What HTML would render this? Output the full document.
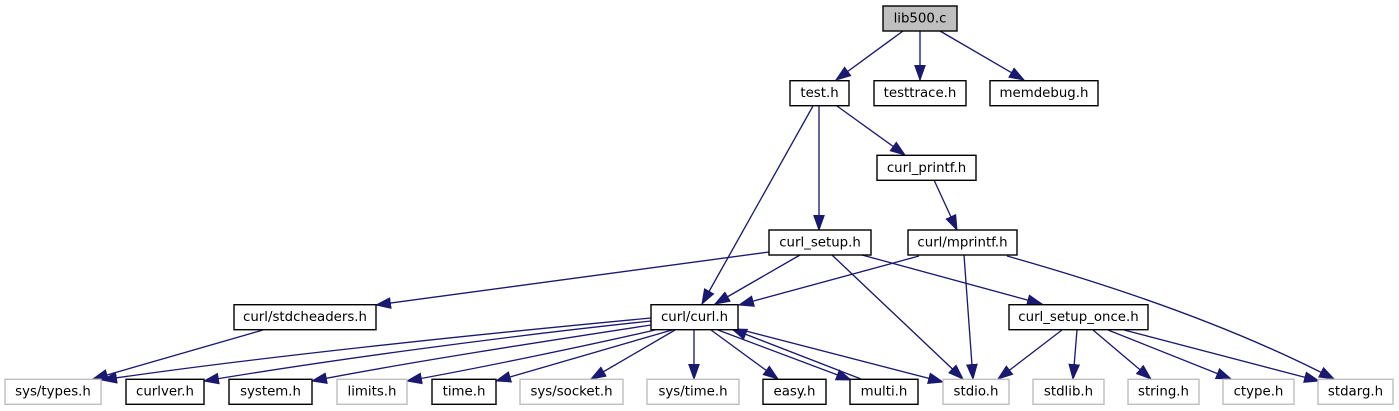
<!DOCTYPE html>
<html><head><meta charset="utf-8"><style>html,body{margin:0;padding:0;background:#fff}svg{display:block}text{font-family:"DejaVu Sans",sans-serif;font-size:13.33px;text-anchor:middle;fill:#000}rect{stroke-width:1.4}.k{fill:#fff;stroke:#000}.g{fill:#fff;stroke:#bfbfbf}path{fill:none;stroke:#191970;stroke-width:1.33;marker-end:url(#a)}</style></head><body>
<svg width="1399" height="411" viewBox="0 0 1399 411" xmlns="http://www.w3.org/2000/svg">
<defs><marker id="a" markerUnits="userSpaceOnUse" markerWidth="18" markerHeight="14" refX="15" refY="7" orient="auto"><polygon points="0.5,1.8 15,7 0.5,12.2" fill="#191970" stroke="#191970" stroke-width="1"/></marker></defs>
<path d="M903,31L836,80"/><path d="M920,31V80"/><path d="M940,31L1024,80"/>
<path d="M813,106L702,304"/><path d="M819,106V230"/><path d="M837,106L905,155"/>
<path d="M934,180L957,230"/>
<path d="M769,252L376,305"/><path d="M800,255L715,304"/><path d="M832,255L963,379"/><path d="M862,255L1042,304"/>
<path d="M919,256L739,305"/><path d="M964,255L973,379"/><path d="M1007,256C1110,285 1230,325 1334,379"/>
<path d="M263,330L93,379"/>
<path d="M651,318C480,334 250,358 102,380"/><path d="M651,321C500,337 330,360 204,381"/><path d="M651,325C540,342 410,362 312,381"/>
<path d="M655,330C590,345 480,368 407,381"/><path d="M672,330L496,381"/><path d="M675,330L591,379"/>
<path d="M694,330V379"/><path d="M711,330L778,379"/><path d="M718,330L851,380"/><path d="M861,379L732,329"/><path d="M738,329L943,382"/>
<path d="M1062,330L998,379"/><path d="M1077,330L1073,379"/><path d="M1093,330L1151,379"/><path d="M1108,330L1231,379"/><path d="M1124,330L1319,381"/>
<rect x="883" y="6" width="74" height="25" fill="#bfbfbf" stroke="#000"/><text x="920" y="22.500">lib500.c</text>
<rect class="k" x="790" y="80.700" width="59" height="25"/><text x="819.500" y="97">test.h</text>
<rect class="k" x="874" y="80.700" width="92" height="25"/><text x="920" y="97">testtrace.h</text>
<rect class="k" x="990" y="80.700" width="108" height="25"/><text x="1044" y="97">memdebug.h</text>
<rect class="k" x="877" y="155.300" width="99" height="25"/><text x="926.500" y="172">curl_printf.h</text>
<rect class="k" x="769" y="230" width="102" height="25"/><text x="820" y="246.500">curl_setup.h</text>
<rect class="k" x="908" y="230" width="109" height="25"/><text x="962.500" y="246.500">curl/mprintf.h</text>
<rect class="k" x="234" y="304.700" width="142" height="25"/><text x="305" y="321">curl/stdcheaders.h</text>
<rect class="k" x="651" y="304.700" width="87" height="25"/><text x="694.500" y="321">curl/curl.h</text>
<rect class="k" x="1009" y="304.700" width="139" height="25"/><text x="1078.500" y="321">curl_setup_once.h</text>
<rect class="g" x="5" y="379.300" width="96" height="25"/><text x="53" y="395.700">sys/types.h</text>
<rect class="k" x="126" y="379.300" width="78" height="25"/><text x="165" y="395.700">curlver.h</text>
<rect class="k" x="229" y="379.300" width="83" height="25"/><text x="270.500" y="395.700">system.h</text>
<rect class="g" x="337" y="379.300" width="70" height="25"/><text x="372" y="395.700">limits.h</text>
<rect class="k" x="432" y="379.300" width="64" height="25"/><text x="464" y="395.700">time.h</text>
<rect class="g" x="520" y="379.300" width="103" height="25"/><text x="571.500" y="395.700">sys/socket.h</text>
<rect class="g" x="647" y="379.300" width="92" height="25"/><text x="693" y="395.700">sys/time.h</text>
<rect class="k" x="763" y="379.300" width="63" height="25"/><text x="794.500" y="395.700">easy.h</text>
<rect class="k" x="850" y="379.300" width="68" height="25"/><text x="884" y="395.700">multi.h</text>
<rect class="g" x="943" y="379.300" width="66" height="25"/><text x="976" y="395.700">stdio.h</text>
<rect class="g" x="1033" y="379.300" width="71" height="25"/><text x="1068.500" y="395.700">stdlib.h</text>
<rect class="g" x="1128" y="379.300" width="71" height="25"/><text x="1163.500" y="395.700">string.h</text>
<rect class="g" x="1223" y="379.300" width="71" height="25"/><text x="1258.500" y="395.700">ctype.h</text>
<rect class="g" x="1318" y="379.300" width="75" height="25"/><text x="1355.500" y="395.700">stdarg.h</text>
</svg></body></html>
